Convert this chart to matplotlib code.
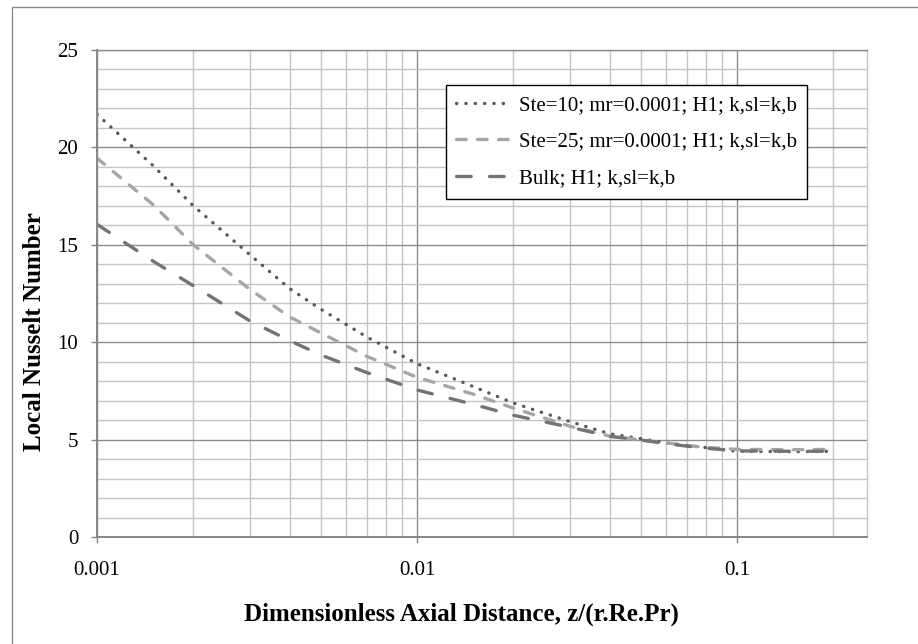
#!/usr/bin/python3

import matplotlib;matplotlib.use('Agg')
import matplotlib.pyplot as plt
import matplotlib.ticker as ticker
from matplotlib.patches import Rectangle

PNG_FILENAME = 'out.png'
DPI = 100

X_AXIS_NAME = 'Dimensionless Axial Distance, z/(r.Re.Pr)'
Y_AXIS_NAME = 'Local Nusselt Number'

# axial positions z/(r.Re.Pr)
z = [0.001, 0.0015, 0.002, 0.003, 0.004, 0.005, 0.007, 0.01, 0.015, 0.02,
     0.03, 0.04, 0.05, 0.06, 0.07, 0.08, 0.1, 0.15, 0.2]

nu_ste10 = [21.7, 19.05, 17.0, 14.5, 12.75, 11.7, 10.25, 8.9, 7.72, 6.88,
            5.93, 5.3, 5.05, 4.83, 4.69, 4.59, 4.4, 4.38, 4.4]
nu_ste25 = [19.45, 17.05, 15.0, 12.72, 11.3, 10.48, 9.26, 8.2, 7.33, 6.62,
            5.69, 5.18, 4.98, 4.83, 4.7, 4.6, 4.5, 4.48, 4.5]
nu_bulk = [16.05, 14.15, 12.9, 11.1, 10.08, 9.35, 8.43, 7.55, 6.81, 6.25,
           5.64, 5.17, 4.98, 4.8, 4.66, 4.56, 4.42, 4.4, 4.4]

labels = ['Ste=10; mr=0.0001; H1; k,sl=k,b',
          'Ste=25; mr=0.0001; H1; k,sl=k,b',
          'Bulk; H1; k,sl=k,b']

W, H = 918, 644
FONT = 'Liberation Serif'
AXIS_GREY = '#868686'


def draw_plot():
    plt.rcParams['font.family'] = FONT
    fig = plt.figure(figsize=(W / DPI, H / DPI), dpi=DPI)

    # chart area frame (Excel-like)
    fig.patches.append(Rectangle((12 / W, -0.1), 1.2, 1 - 7 / H + 0.1,
                                 transform=fig.transFigure, fill=False,
                                 edgecolor='#8a8a8a', lw=1.0))

    ax = fig.add_axes([97 / W, 1 - 537 / H, 770 / W, 487 / H])
    lw = 2.4
    ax.plot(z, nu_ste10, color='#595959', lw=lw, linestyle=(0, (0.1, 2.7)),
            dash_capstyle='round', label=labels[0])
    ax.plot(z, nu_ste25, color='#a6a6a6', lw=lw, linestyle=(0, (2.9, 3.4)),
            dash_capstyle='round', label=labels[1])
    ax.plot(z, nu_bulk, color='#737373', lw=lw, linestyle=(0, (4.4, 5.5)),
            dash_capstyle='round', label=labels[2])

    ax.set_xscale('log')
    ax.set_xlim(0.001, 0.255)
    ax.set_ylim(0, 25)
    ax.xaxis.set_major_locator(ticker.FixedLocator([0.001, 0.01, 0.1]))
    ax.xaxis.set_major_formatter(ticker.FixedFormatter(['0.001', '0.01', '0.1']))
    ax.xaxis.set_minor_locator(ticker.LogLocator(base=10, subs=range(2, 10)))
    ax.xaxis.set_minor_formatter(ticker.NullFormatter())
    ax.yaxis.set_major_locator(ticker.MultipleLocator(5))
    ax.yaxis.set_minor_locator(ticker.MultipleLocator(1))

    ax.grid(True, which='minor', color='#c4c4c4', lw=1.0)
    ax.grid(True, which='major', color='#8c8c8c', lw=1.0)
    ax.set_axisbelow(True)

    ax.tick_params(which='major', direction='out', length=4.5, width=1.0,
                   color=AXIS_GREY, labelsize=15)
    ax.tick_params(axis='y', which='major', pad=9)
    ax.tick_params(axis='x', which='major', pad=13)
    ax.tick_params(which='minor', length=0)
    for side in ('left', 'bottom'):
        ax.spines[side].set_color(AXIS_GREY)
        ax.spines[side].set_linewidth(1.4)
    ax.spines['top'].set_color('#8c8c8c')
    ax.spines['top'].set_linewidth(1.0)
    ax.spines['right'].set_color('#c4c4c4')
    ax.spines['right'].set_linewidth(1.0)

    fig.text(461 / W, 1 - 614 / H, X_AXIS_NAME, ha='center', va='center',
             fontsize=18, fontweight='bold')
    fig.text(35 / W, 1 - 332 / H, Y_AXIS_NAME, ha='center', va='center',
             rotation=90, fontsize=18, fontweight='bold')

    leg = ax.legend(loc='upper left', bbox_to_anchor=(446 / W, 1 - 85 / H),
                    bbox_transform=fig.transFigure, borderaxespad=0,
                    fancybox=False, framealpha=1, edgecolor='black',
                    fontsize=15, handlelength=2.6, handletextpad=0.4,
                    labelspacing=0.82, borderpad=0.5)
    leg.get_frame().set_linewidth(1.0)

    plt.savefig(PNG_FILENAME, dpi=DPI)


if __name__ == "__main__":
    draw_plot()
